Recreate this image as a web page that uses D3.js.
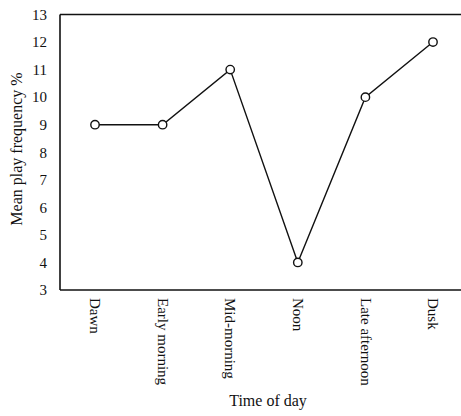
<!DOCTYPE html>
<html><head><meta charset="utf-8">
<script src="https://cdn.jsdelivr.net/npm/d3@7"></script>
<style>body{margin:0;background:#fff}</style>
</head><body>
<script>
const categories = ["Dawn","Early morning","Mid-morning","Noon","Late afternoon","Dusk"];
const values = [9, 9, 11, 4, 10, 12];
const yTicks = [3,4,5,6,7,8,9,10,11,12,13];
const yTitle = "Mean play frequency  %";
const xTitle = "Time of day";

(function(){
const W = 461, H = 416;
const mLeft = 60, mRight = 461, mTop = 14.5, mBottom = 290;
const font = "'Liberation Serif', 'Times New Roman', serif";

const svg = d3.select("body").append("svg").attr("width", W).attr("height", H);

const x = d3.scalePoint().domain(categories).range([95, 433]);
const y = d3.scaleLinear().domain([3, 13]).range([mBottom, mTop]);

svg.append("line").attr("x1", mLeft).attr("x2", mLeft).attr("y1", mTop).attr("y2", mBottom)
  .attr("stroke", "#111").attr("stroke-width", 1.6);
svg.append("line").attr("x1", mLeft).attr("x2", mRight).attr("y1", mTop).attr("y2", mTop)
  .attr("stroke", "#111").attr("stroke-width", 1.6);
svg.append("line").attr("x1", mLeft).attr("x2", mRight).attr("y1", mBottom).attr("y2", mBottom)
  .attr("stroke", "#111").attr("stroke-width", 1.6);

const yAxis = d3.axisLeft(y).tickValues(yTicks).tickSize(0).tickPadding(13).tickFormat(d3.format("d"));
const gy = svg.append("g").attr("transform", `translate(${mLeft},0)`).call(yAxis);
gy.select(".domain").remove();
gy.selectAll("text").attr("font-family", font).attr("font-size", 15).attr("fill", "#111");

const xAxis = d3.axisBottom(x).tickSize(0).tickPadding(0);
const gx = svg.append("g").attr("transform", `translate(0,${mBottom})`).call(xAxis);
gx.select(".domain").remove();
gx.selectAll("text")
  .attr("font-family", font).attr("font-size", 15).attr("fill", "#111")
  .attr("text-anchor", "start")
  .attr("dy", "0.35em")
  .attr("transform", "translate(0,8) rotate(90)")
  .attr("x", 0).attr("y", 0);

svg.append("path").datum(values)
  .attr("d", d3.line().x((d,i) => x(categories[i])).y(d => y(d)))
  .attr("fill", "none").attr("stroke", "#111").attr("stroke-width", 1.4);

svg.selectAll("circle.pt").data(values).enter().append("circle")
  .attr("class","pt")
  .attr("cx", (d,i) => x(categories[i])).attr("cy", d => y(d)).attr("r", 4.2)
  .attr("fill", "#fff").attr("stroke", "#111").attr("stroke-width", 1.4);

svg.append("text").attr("transform", "translate(22,149) rotate(-90)")
  .attr("text-anchor", "middle").attr("font-family", font).attr("font-size", 16).attr("fill", "#111")
  .text(yTitle);
svg.append("text").attr("x", 268).attr("y", 406)
  .attr("text-anchor", "middle").attr("font-family", font).attr("font-size", 16).attr("fill", "#111")
  .text(xTitle);
})();
</script>
</body></html>
